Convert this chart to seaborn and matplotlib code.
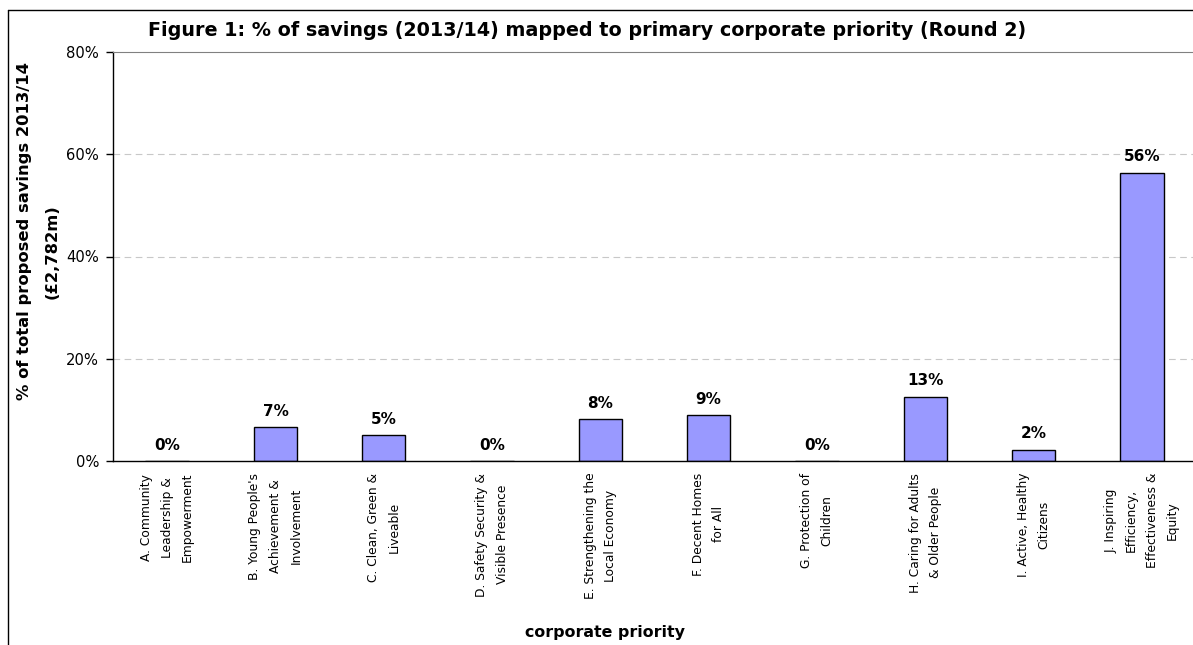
import numpy as np
import pandas as pd
import seaborn as sns
import matplotlib.pyplot as plt
from matplotlib.lines import Line2D

# data
priorities = [
    'A. Community\nLeadership &\nEmpowerment',
    "B. Young People's\nAchievement &\nInvolvement",
    'C. Clean, Green &\nLiveable',
    'D. Safety Security &\nVisible Presence',
    'E. Strengthening the\nLocal Economy',
    'F. Decent Homes\nfor All',
    'G. Protection of\nChildren',
    'H. Caring for Adults\n& Older People',
    'I. Active, Healthy\nCitizens',
    'J. Inspiring\nEfficiency,\nEffectiveness &\nEquity',
]
savings_pct = [0.0, 6.6, 5.0, 0.0, 8.2, 9.0, 0.0, 12.6, 2.2, 56.4]

df = pd.DataFrame({'priority': priorities, 'pct': savings_pct})

sns.set_style('white')
plt.rcParams['font.family'] = ['DejaVu Sans']
plt.rcParams['text.color'] = 'black'
plt.rcParams['xtick.color'] = 'black'
plt.rcParams['ytick.color'] = 'black'
plt.rcParams['axes.labelcolor'] = 'black'

W, H = 1193, 645
fig = plt.figure(figsize=(W / 100, H / 100), dpi=100)
ax = fig.add_axes([113 / W, 1 - 461 / H, (1196 - 113) / W, (461 - 52) / H])

sns.barplot(data=df, x='priority', y='pct', color='#9999FF', edgecolor='black',
            linewidth=1, width=0.4, saturation=1, ax=ax)

ax.set_xlim(-0.5, len(priorities) - 0.5)
ax.set_ylim(0, 80)
ax.set_yticks([0, 20, 40, 60, 80])
ax.set_yticklabels([f'{t}%' for t in [0, 20, 40, 60, 80]], fontsize=10.6)
for y in [20, 40, 60]:
    ax.axhline(y, color='#c8c8c8', lw=0.8, ls=(0, (6, 4)), zorder=0)

# category labels at centres, ticks at boundaries
ax.set_xticks(range(len(priorities)))
ax.set_xticklabels(priorities, rotation=90, fontsize=8.8, va='top',
                   ha='center', multialignment='center', linespacing=1.75)
ax.tick_params(axis='x', which='major', length=0, pad=8.5)
ax.set_xticks(np.arange(-0.5, len(priorities)), minor=True)
ax.tick_params(axis='x', which='minor', length=5, width=1)
ax.tick_params(axis='y', length=5, width=1, left=True, pad=5)

for s in ['left', 'bottom']:
    ax.spines[s].set_color('black')
    ax.spines[s].set_linewidth(1)
ax.spines['top'].set_color('#808080')
ax.spines['right'].set_visible(False)

for i, v in enumerate(savings_pct):
    ax.annotate(f'{v:.0f}%', (i, v), xytext=(0, 6), textcoords='offset points',
                ha='center', va='bottom', fontsize=11, fontweight='bold')

ax.set_xlabel('')
ax.set_ylabel('')
fig.text(25 / W, 1 - 231 / H, '% of total proposed savings 2013/14', rotation=90,
         fontsize=11.8, fontweight='bold', ha='center', va='center')
fig.text(52 / W, 1 - 252 / H, '(£2,782m)', rotation=90,
         fontsize=11.8, fontweight='bold', ha='center', va='center')
fig.text(605 / W, 1 - 632 / H, 'corporate priority', fontsize=11.4,
         fontweight='bold', ha='center', va='center')
fig.text(587 / W, 1 - 30 / H,
         'Figure 1: % of savings (2013/14) mapped to primary corporate priority (Round 2)',
         fontsize=13.8, fontweight='bold', ha='center', va='center')

# outer chart border (left and top visible)
fig.add_artist(Line2D([8 / W, 8 / W], [0, 1 - 10 / H], color='black', lw=1))
fig.add_artist(Line2D([8 / W, 1], [1 - 10 / H, 1 - 10 / H], color='black', lw=1))

fig.savefig('out.png', dpi=100)
